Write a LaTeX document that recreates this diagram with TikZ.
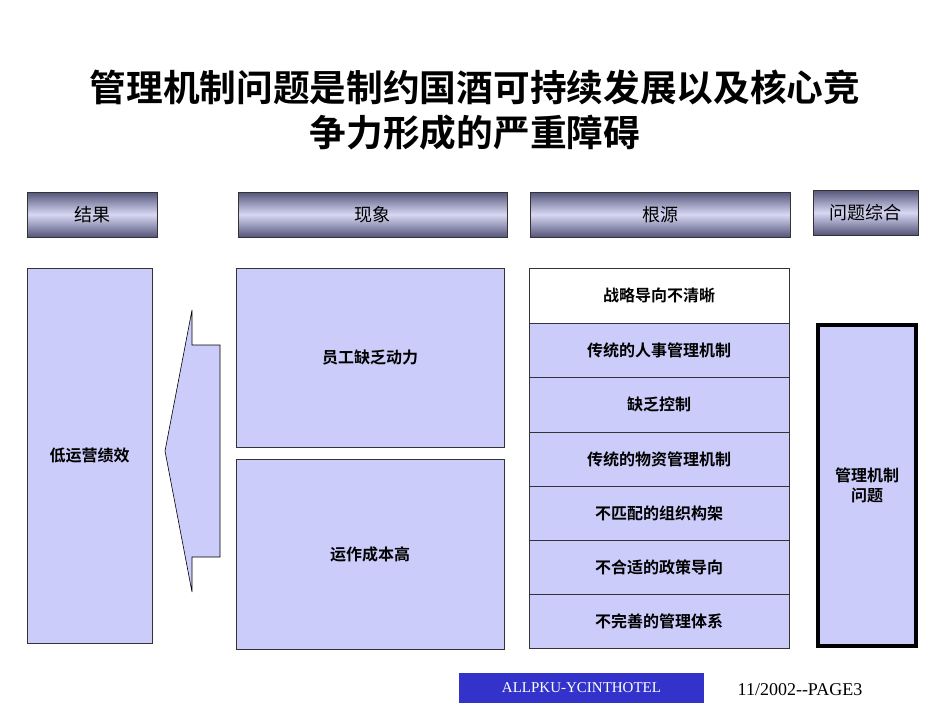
\documentclass[tikz,border=0pt]{standalone}
\usepackage{fontspec}
\newfontfamily\cjk{Noto Sans CJK SC}
\newfontfamily\cjkb{Noto Sans CJK SC Bold}
\setmainfont{Liberation Serif}
\definecolor{lav}{HTML}{CCCCFA}
\definecolor{hdark}{HTML}{55557A}
\definecolor{hlight}{HTML}{D8D8F4}
\definecolor{fblue}{HTML}{3333CC}
\begin{document}
\begin{tikzpicture}[x=1pt,y=-1pt,
  hdr/.style={draw=black!80,line width=0.8pt,top color=hdark,bottom color=hdark,middle color=hlight,font=\cjk\fontsize{18}{18}\selectfont},
  bx/.style={draw=black!80,line width=0.8pt,fill=lav,font=\cjkb\fontsize{16}{20}\selectfont,align=center}]
\useasboundingbox (0,0) rectangle (950,713);
\node[font=\cjkb\fontsize{36.7}{45}\selectfont,align=center] (title) at (475,110) {管理机制问题是制约国酒可持续发展以及核心竞\\争力形成的严重障碍};
\node[hdr,minimum width=130,minimum height=45] (h1) at (92,214.5) {结果};
\node[hdr,minimum width=269,minimum height=45] (h2) at (372.5,214.5) {现象};
\node[hdr,minimum width=260,minimum height=45] (h3) at (660,214.5) {根源};
\node[hdr,minimum width=105,minimum height=45] (h4) at (865.5,212.5) {问题综合};
\node[bx,minimum width=125,minimum height=375] (res) at (89.5,455.5) {低运营绩效};
\draw[fill=lav,line width=0.6pt] (192,310) -- (192,345) -- (220,345) -- (220,557) -- (192,557) -- (192,592) -- (165,451) -- cycle;
\node[bx,minimum width=268,minimum height=179] (p1) at (370,357.5) {员工缺乏动力};
\node[bx,minimum width=268,minimum height=190] (p2) at (370,554) {运作成本高};
\foreach \t/\a/\b/\c [count=\i] in {战略导向不清晰/268/323/white,传统的人事管理机制/323/377/lav,缺乏控制/377/432/lav,传统的物资管理机制/432/486/lav,不匹配的组织构架/486/540/lav,不合适的政策导向/540/594/lav,不完善的管理体系/594/648/lav}{
  \node[bx,fill=\c,minimum width=260,minimum height={\b-\a},inner sep=0pt] (r\i) at (659,{(\a+\b)/2}) {\t};
}
\node[bx,draw=black,line width=4pt,minimum width=98,minimum height=321] (sum) at (867,485.5) {管理机制\\问题};
\node[fill=fblue,minimum width=245,minimum height=30,text=white,font=\fontsize{15}{15}\selectfont] (ft) at (581.5,688) {ALLPKU-YCINTHOTEL};
\node[font=\fontsize{18}{18}\selectfont] (pg) at (800,690) {11/2002{-}{-}PAGE3};
\end{tikzpicture}
\end{document}
